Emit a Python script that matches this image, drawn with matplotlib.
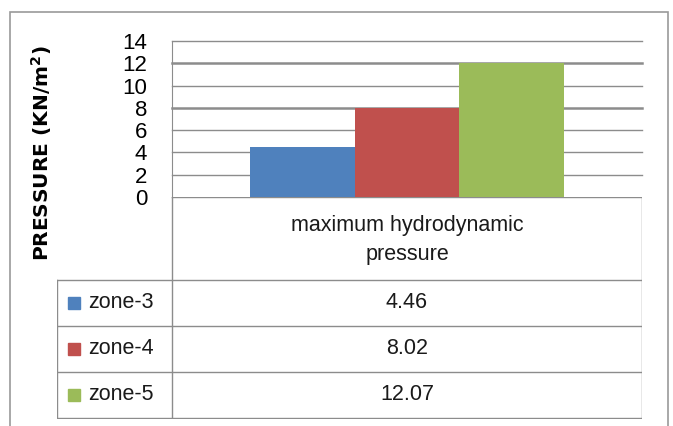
import matplotlib.pyplot as plt
import numpy as np

category = 'maximum hydrodynamic\npressure'
zones = ['zone-3', 'zone-4', 'zone-5']
values = [4.46, 8.02, 12.07]
value_labels = ['4.46', '8.02', '12.07']
colors = ['#4F81BD', '#C0504D', '#9BBB59']
yticks = [0, 2, 4, 6, 8, 10, 12, 14]

plt.rcParams['font.family'] = ['Liberation Sans Narrow', 'Liberation Sans', 'DejaVu Sans']

W, H = 673, 426
fig = plt.figure(figsize=(W / 100, H / 100), dpi=100)

def box(x0, y0, x1, y1):
    # pixel box -> figure fraction rect
    return [x0 / W, 1 - y1 / H, (x1 - x0) / W, (y1 - y0) / H]

# outer chart border
fig.add_artist(plt.Rectangle((10 / W, -0.01), 658 / W, 1 - 12 / H + 0.01,
                             transform=fig.transFigure, fill=False,
                             edgecolor='#9a9a9a', linewidth=1.2))

# bar plot area
ax = fig.add_axes(box(172, 41, 642, 197))
bar_width = 1 / 4.5
x = np.arange(len(zones)) * bar_width - bar_width
for i, (v, c) in enumerate(zip(values, colors)):
    ax.bar(x[i], v, bar_width, color=c, zorder=2, align='center')
ax.set_xlim(-0.5, 0.5)
ax.set_ylim(0, 14)
ax.set_yticks(yticks)
ax.set_yticklabels([str(t) for t in yticks], fontsize=16)
ax.tick_params(axis='y', length=0, pad=18)
ax.set_xticks([])
for t in yticks[1:]:
    lw = 1.8 if t in (8, 12) else 1.0
    ax.axhline(t, color='#8c8c8c', linewidth=lw, zorder=1, clip_on=False)
for s in ['top', 'right', 'bottom']:
    ax.spines[s].set_visible(False)
ax.spines['left'].set_color('#8c8c8c')
ax.set_ylabel('PRESSURE (KN/m$^\\mathbf{2}$)', fontsize=14.5, fontweight='bold',
              family='DejaVu Sans')
ax.yaxis.set_label_coords(-0.25, 0.28)

# data table below
tab = fig.add_axes(box(57, 197, 642, 419))
tab.set_xlim(57, 642)
tab.set_ylim(419, 197)
tab.axis('off')
gc = '#8c8c8c'
tab.plot([172, 642], [197, 197], color=gc, lw=1)
for yy in [280, 326, 372, 418]:
    tab.plot([57, 642], [yy, yy], color=gc, lw=1)
tab.plot([57, 57], [280, 418], color=gc, lw=1)
tab.plot([172, 172], [197, 418], color=gc, lw=1)
tab.plot([642, 642], [197, 418], color=gc, lw=1)
tab.text(407, 240, category, ha='center', va='center', fontsize=15.5,
         color='#1a1a1a', linespacing=1.45)
row_y = [303, 349, 395]
for zname, lab, c, ry in zip(zones, value_labels, colors, row_y):
    tab.add_patch(plt.Rectangle((68, ry - 6), 12, 12, color=c))
    tab.text(88, ry, zname, ha='left', va='center', fontsize=15.5, color='#1a1a1a')
    tab.text(407, ry, lab, ha='center', va='center', fontsize=15.5, color='#1a1a1a')

fig.savefig('out.png', dpi=100)
